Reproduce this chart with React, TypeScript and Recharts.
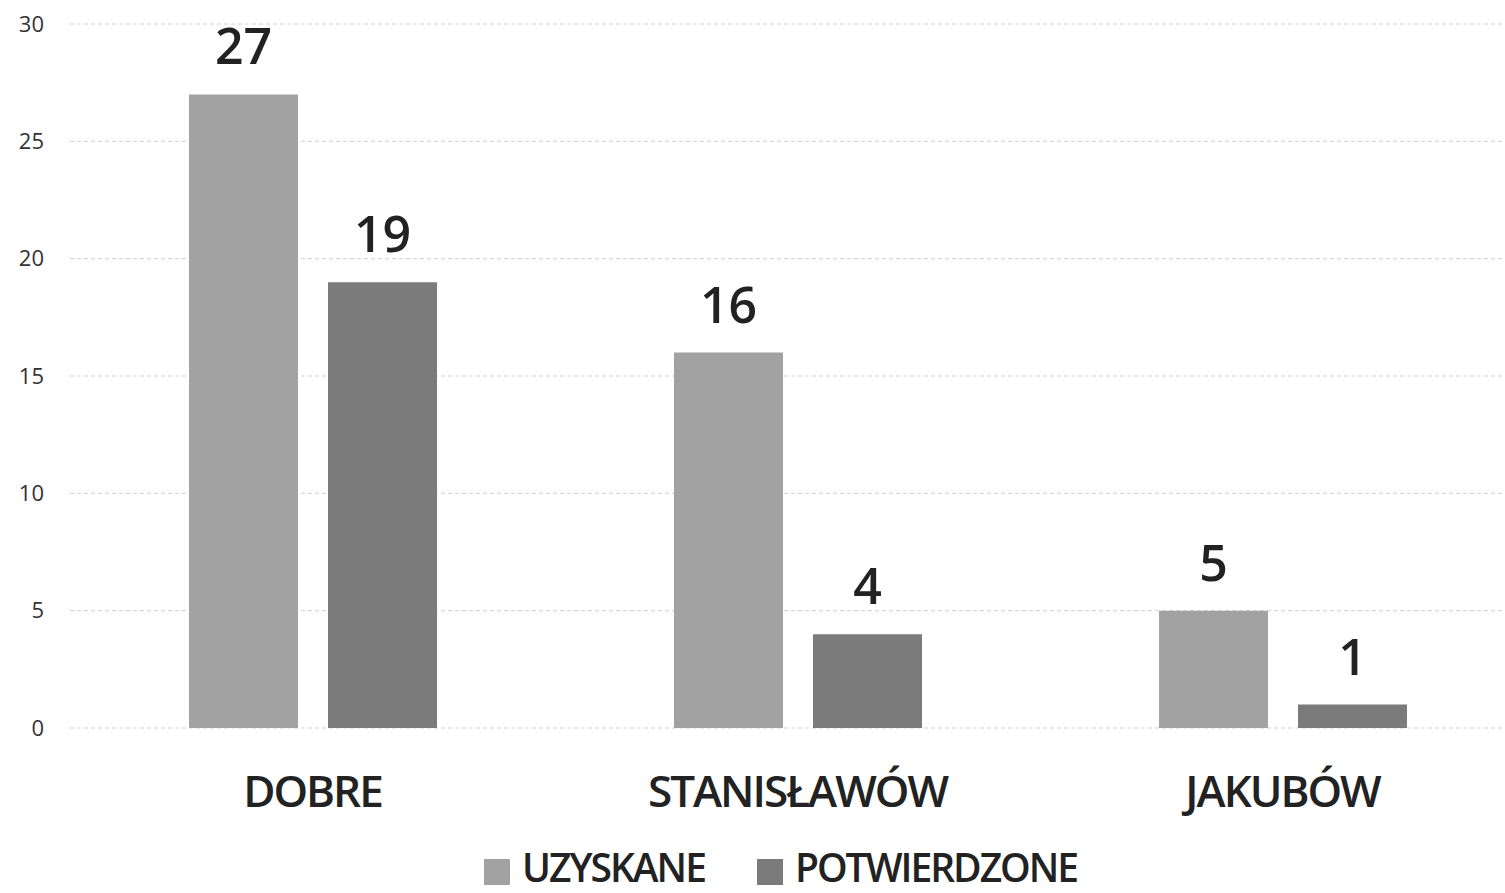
import React from "react";
import { BarChart, Bar, XAxis, YAxis, CartesianGrid, LabelList, Legend } from "recharts";

const categories = ["DOBRE", "STANISŁAWÓW", "JAKUBÓW"];
const uzyskane = [27, 16, 5];
const potwierdzone = [19, 4, 1];
const seriesNames = ["UZYSKANE", "POTWIERDZONE"];
const seriesColors = ["#a2a2a2", "#7b7b7b"];
const yTicks = [0, 5, 10, 15, 20, 25, 30];

const data = categories.map((c, i) => ({ name: c, uzyskane: uzyskane[i], potwierdzone: potwierdzone[i] }));

const FONT = "'Open Sans', 'Noto Sans', sans-serif";

const XTick = (props: any) => {
  const { x, y, payload } = props;
  return (
    <text x={x} y={y + 71} textAnchor="middle" fontFamily={FONT} fontSize={44} fontWeight={600} letterSpacing={-2} fill="#222">
      {payload.value}
    </text>
  );
};

const LegendContent = () => (
  <div style={{ display: "flex", alignItems: "center", paddingLeft: 484, fontFamily: FONT, height: 40 }}>
    {seriesNames.map((n, i) => (
      <div key={n} style={{ display: "flex", alignItems: "center", marginRight: 52 }}>
        <div style={{ width: 26, height: 26, background: seriesColors[i], marginRight: 12, marginTop: 10 }} />
        <span style={{ fontSize: 39, fontWeight: 600, letterSpacing: -2, color: "#222", lineHeight: "40px" }}>{n}</span>
      </div>
    ))}
  </div>
);

export default function App() {
  return (
    <div style={{ position: "absolute", left: 0, top: 0, width: 1505, height: 893, overflow: "hidden", background: "#fff" }}>
      <BarChart
        width={1525}
        height={893}
        data={data}
        margin={{ top: 24, right: 0, bottom: 0, left: 0 }}
        barSize={109}
        barGap={30}
      >
        <CartesianGrid vertical={false} stroke="#cfcfcf" strokeDasharray="4 3" />
        <XAxis
          dataKey="name"
          axisLine={false}
          tickLine={false}
          height={125}
          tick={<XTick />}
          interval={0}
        />
        <YAxis
          domain={[0, 30]}
          ticks={yTicks}
          axisLine={false}
          tickLine={false}
          width={70}
          tickMargin={20}
          tick={{ fontFamily: FONT, fontSize: 22, fill: "#333" }}
        />
        <Legend
          content={<LegendContent />}
          wrapperStyle={{ position: "absolute", top: 847, left: 0, width: 1505 }}
        />
        <Bar dataKey="uzyskane" name={seriesNames[0]} fill={seriesColors[0]} isAnimationActive={false}>
          <LabelList dataKey="uzyskane" position="top" offset={30} fontFamily={FONT} fontSize={50} fontWeight={600} fill="#222" />
        </Bar>
        <Bar dataKey="potwierdzone" name={seriesNames[1]} fill={seriesColors[1]} isAnimationActive={false}>
          <LabelList dataKey="potwierdzone" position="top" offset={30} fontFamily={FONT} fontSize={50} fontWeight={600} fill="#222" />
        </Bar>
      </BarChart>
    </div>
  );
}
